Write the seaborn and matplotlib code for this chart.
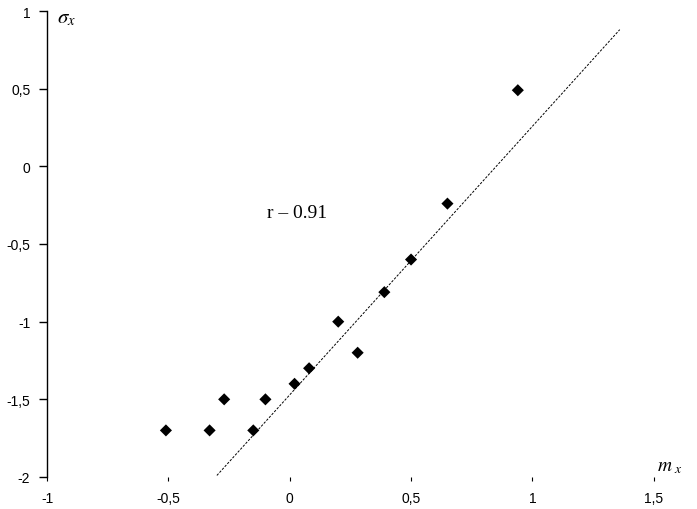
import matplotlib
matplotlib.use("Agg")
import matplotlib.pyplot as plt
import seaborn as sns
import pandas as pd

# data
m_x = [-0.51, -0.33, -0.27, -0.15, -0.10, 0.02, 0.08, 0.20, 0.28, 0.39, 0.50, 0.65, 0.94]
sigma_x = [-1.70, -1.70, -1.50, -1.70, -1.50, -1.40, -1.30, -1.00, -1.20, -0.81, -0.60, -0.24, 0.49]
trend_x = [-0.30, 1.36]
trend_y = [-1.99, 0.88]
x_ticks = [-1, -0.5, 0, 0.5, 1, 1.5]
x_tick_labels = ["-1", "-0,5", "0", "0,5", "1", "1,5"]
y_ticks = [-2, -1.5, -1, -0.5, 0, 0.5, 1]
y_tick_labels = ["-2", "-1,5", "-1", "-0,5", "0", "0,5", "1"]
r_label = "r – 0.91"

sns.set_theme(style="white")
plt.rcParams["font.family"] = ["Liberation Sans", "DejaVu Sans"]
plt.rcParams["mathtext.fontset"] = "stix"

fig = plt.figure(figsize=(6.97, 5.10), dpi=100)
W, H = 697, 510
ax = fig.add_axes([47 / W, (H - 478) / H, (678 - 47) / W, (478 - 12) / H])

df = pd.DataFrame({"m": m_x, "s": sigma_x})
sns.scatterplot(data=df, x="m", y="s", marker="D", color="black", s=38,
                edgecolor="none", ax=ax, zorder=3)
sns.lineplot(x=trend_x, y=trend_y, color="black", linewidth=0.7,
             dashes=False, ax=ax, zorder=2)
ax.lines[-1].set_dashes((2.5, 1.5))

ax.set_xlim(-1, 1.6)
ax.set_ylim(-2, 1)
ax.set_xticks(x_ticks)
ax.set_xticklabels(x_tick_labels)
ax.set_yticks(y_ticks)
ax.set_yticklabels(y_tick_labels)
ax.set_xlabel("")
ax.set_ylabel("")

for side in ["top", "right", "bottom"]:
    ax.spines[side].set_visible(False)
ax.spines["left"].set_color("black")
ax.spines["left"].set_linewidth(1.0)

ax.tick_params(axis="y", direction="out", length=6, width=1, color="black",
               labelsize=10, pad=6, labelcolor="black", left=True)
ax.tick_params(axis="x", direction="out", length=3, width=0.8, color="black",
               labelsize=10, pad=7, labelcolor="black", bottom=True)

ax.text(0.03, -0.3, r_label, ha="center", va="center", fontsize=14,
        family="Liberation Serif", color="black")

fig.text(57 / W, 1 - 18 / H, r"$\sigma_x$", fontsize=15, ha="left",
         va="center", color="black")
fig.text(657 / W, 1 - 468 / H, r"$m_{\ x}$", fontsize=14, ha="left",
         va="center", color="black")

fig.savefig("out.png", dpi=100, facecolor="white")
